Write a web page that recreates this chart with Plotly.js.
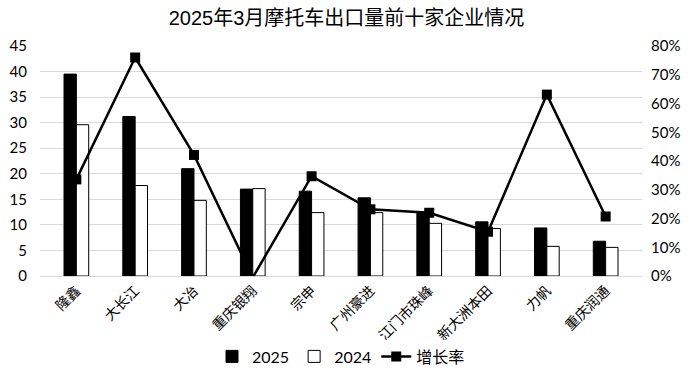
<!DOCTYPE html>
<html>
<head>
<meta charset="utf-8">
<script src="https://cdn.plot.ly/plotly-3.0.1.min.js"></script>
<style>html,body{margin:0;padding:0;background:#fff;}#chart{width:693px;height:376px;}</style>
</head>
<body>
<div id="chart"></div>
<script>
const categories = ["隆鑫","大长江","大冶","重庆银翔","宗申","广州豪进","江门市珠峰","新大洲本田","力帆","重庆润通"];
const values2025 = [39.5, 31.2, 21.0, 17.0, 16.6, 15.3, 12.5, 10.6, 9.4, 6.8];
const values2024 = [29.6, 17.7, 14.8, 17.1, 12.4, 12.4, 10.3, 9.3, 5.8, 5.6];
const growth = [0.336, 0.760, 0.421, -0.005, 0.347, 0.232, 0.220, 0.154, 0.631, 0.207];
const leftTicks = [0,5,10,15,20,25,30,35,40,45];
const rightTicks = [0,0.1,0.2,0.3,0.4,0.5,0.6,0.7,0.8];

const numFont = "Lato, 'Liberation Sans', sans-serif";
const cjkFont = "'Noto Sans CJK SC', sans-serif";

const traces = [
  {type:'bar', name:'2025', x:categories, y:values2025, marker:{color:'#000', line:{color:'#000', width:1}}},
  {type:'bar', name:'2024', x:categories, y:values2024, marker:{color:'#fff', line:{color:'#000', width:1}}},
  {type:'scatter', mode:'lines+markers', name:'增长率', x:categories, y:growth, yaxis:'y2',
   line:{color:'#000', width:2.5}, marker:{symbol:'square', size:10, color:'#000'}, cliponaxis:false}
];

const layout = {
  width:693, height:376,
  margin:{l:40, r:51, t:46, b:100, autoexpand:false},
  paper_bgcolor:'#fff', plot_bgcolor:'#fff',
  title:{text:'2025年3月摩托车出口量前十家企业情况', x:0.5, xanchor:'center', y:0.952, yanchor:'middle',
         font:{family:"'Liberation Sans', 'Noto Sans CJK SC', sans-serif", size:20, color:'#000'}},
  barmode:'group', bargap:0.58, bargroupgap:0,
  xaxis:{tickangle:-45, automargin:false, tickfont:{family:cjkFont, size:14, color:'#000'}, showline:true, linecolor:'#d9d9d9',
         linewidth:1, ticks:'', showgrid:false, fixedrange:true},
  yaxis:{range:[0,45], automargin:false, tickvals:leftTicks, ticktext:leftTicks.map(String), showgrid:true, gridcolor:'#d9d9d9',
         gridwidth:1, zeroline:false, showline:false, tickfont:{family:numFont, size:15, color:'#000'}, ticks:'', ticklen:0,
         ticklabelstandoff:12},
  yaxis2:{range:[0,0.8], automargin:false, overlaying:'y', side:'right', tickvals:rightTicks, ticktext:rightTicks.map(v=>Math.round(v*100)+'%'),
         showgrid:false, zeroline:false, showline:false, tickfont:{family:numFont, size:15, color:'#000'}, ticks:'',
         ticklabelstandoff:8},
  legend:{orientation:'h', x:0.5, xanchor:'center', y:-0.35, yanchor:'middle',
          font:{family:"Lato, 'Noto Sans CJK SC', sans-serif", size:16, color:'#000'}, traceorder:'normal'},
  showlegend:true
};

Plotly.newPlot('chart', traces, layout, {displayModeBar:false, staticPlot:true});
</script>
</body>
</html>
